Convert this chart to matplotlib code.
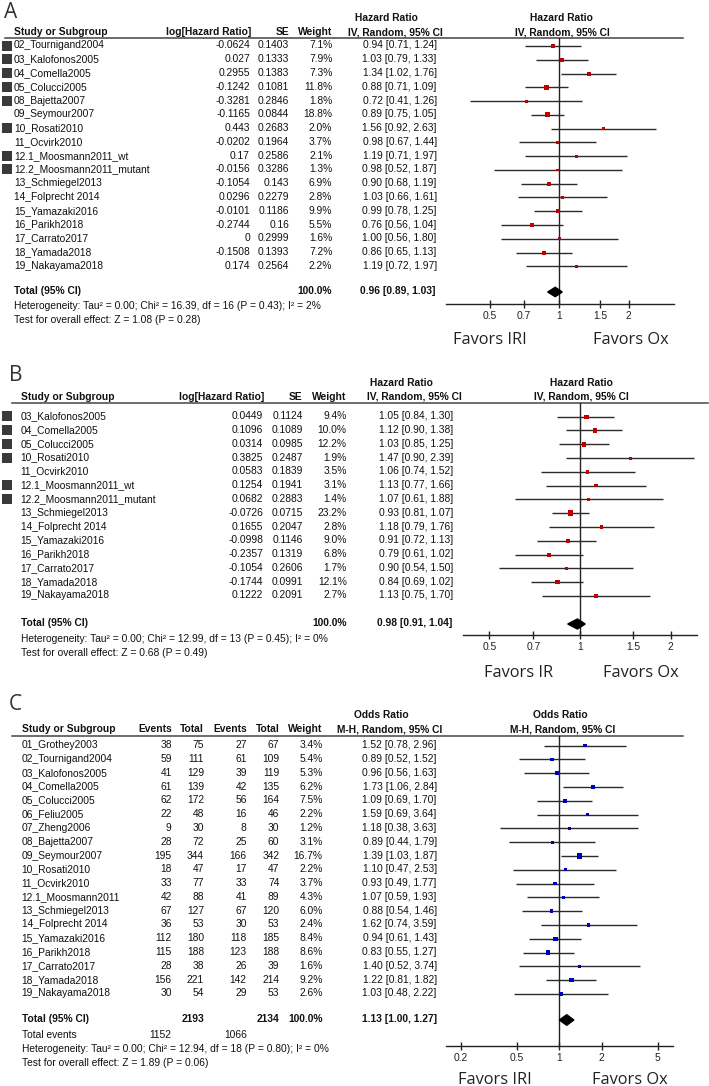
import numpy as np
import matplotlib.pyplot as plt
from matplotlib.patches import Polygon, Rectangle
from matplotlib.ticker import NullLocator

# ---- panel A : OS, hazard ratios ----
studies_a = ["02_Tournigand2004", "03_Kalofonos2005", "04_Comella2005", "05_Colucci2005",
             "08_Bajetta2007", "09_Seymour2007", "10_Rosati2010", "11_Ocvirk2010",
             "12.1_Moosmann2011_wt", "12.2_Moosmann2011_mutant", "13_Schmiegel2013",
             "14_Folprecht 2014", "15_Yamazaki2016", "16_Parikh2018", "17_Carrato2017",
             "18_Yamada2018", "19_Nakayama2018"]
loghr_a = [-0.0624, 0.027, 0.2955, -0.1242, -0.3281, -0.1165, 0.443, -0.0202, 0.17,
           -0.0156, -0.1054, 0.0296, -0.0101, -0.2744, 0, -0.1508, 0.174]
se_a = [0.1403, 0.1333, 0.1383, 0.1081, 0.2846, 0.0844, 0.2683, 0.1964, 0.2586,
        0.3286, 0.143, 0.2279, 0.1186, 0.16, 0.2999, 0.1393, 0.2564]
weight_a = [7.1, 7.9, 7.3, 11.8, 1.8, 18.8, 2.0, 3.7, 2.1, 1.3, 6.9, 2.8, 9.9, 5.5, 1.6, 7.2, 2.2]
hr_a = [0.94, 1.03, 1.34, 0.88, 0.72, 0.89, 1.56, 0.98, 1.19, 0.98, 0.90, 1.03, 0.99, 0.76, 1.00, 0.86, 1.19]
lo_a = [0.71, 0.79, 1.02, 0.71, 0.41, 0.75, 0.92, 0.67, 0.71, 0.52, 0.68, 0.66, 0.78, 0.56, 0.56, 0.65, 0.72]
hi_a = [1.24, 1.33, 1.76, 1.09, 1.26, 1.05, 2.63, 1.44, 1.97, 1.87, 1.19, 1.61, 1.25, 1.04, 1.80, 1.13, 1.97]
flag_a = [1, 1, 1, 1, 1, 0, 1, 0, 1, 1, 0, 0, 0, 0, 0, 0, 0]
total_a = (0.96, 0.89, 1.03)
het_a = "Heterogeneity: Tau² = 0.00; Chi² = 16.39, df = 16 (P = 0.43); I² = 2%"
test_a = "Test for overall effect: Z = 1.08 (P = 0.28)"

# ---- panel B : PFS, hazard ratios ----
studies_b = ["03_Kalofonos2005", "04_Comella2005", "05_Colucci2005", "10_Rosati2010",
             "11_Ocvirk2010", "12.1_Moosmann2011_wt", "12.2_Moosmann2011_mutant",
             "13_Schmiegel2013", "14_Folprecht 2014", "15_Yamazaki2016", "16_Parikh2018",
             "17_Carrato2017", "18_Yamada2018", "19_Nakayama2018"]
loghr_b = [0.0449, 0.1096, 0.0314, 0.3825, 0.0583, 0.1254, 0.0682, -0.0726, 0.1655,
           -0.0998, -0.2357, -0.1054, -0.1744, 0.1222]
se_b = [0.1124, 0.1089, 0.0985, 0.2487, 0.1839, 0.1941, 0.2883, 0.0715, 0.2047,
        0.1146, 0.1319, 0.2606, 0.0991, 0.2091]
weight_b = [9.4, 10.0, 12.2, 1.9, 3.5, 3.1, 1.4, 23.2, 2.8, 9.0, 6.8, 1.7, 12.1, 2.7]
hr_b = [1.05, 1.12, 1.03, 1.47, 1.06, 1.13, 1.07, 0.93, 1.18, 0.91, 0.79, 0.90, 0.84, 1.13]
lo_b = [0.84, 0.90, 0.85, 0.90, 0.74, 0.77, 0.61, 0.81, 0.79, 0.72, 0.61, 0.54, 0.69, 0.75]
hi_b = [1.30, 1.38, 1.25, 2.39, 1.52, 1.66, 1.88, 1.07, 1.76, 1.13, 1.02, 1.50, 1.02, 1.70]
flag_b = [1, 1, 1, 1, 0, 1, 1, 0, 0, 0, 0, 0, 0, 0]
total_b = (0.98, 0.91, 1.04)
het_b = "Heterogeneity: Tau² = 0.00; Chi² = 12.99, df = 13 (P = 0.45); I² = 0%"
test_b = "Test for overall effect: Z = 0.68 (P = 0.49)"

# ---- panel C : response, odds ratios ----
studies_c = ["01_Grothey2003", "02_Tournigand2004", "03_Kalofonos2005", "04_Comella2005",
             "05_Colucci2005", "06_Feliu2005", "07_Zheng2006", "08_Bajetta2007",
             "09_Seymour2007", "10_Rosati2010", "11_Ocvirk2010", "12.1_Moosmann2011",
             "13_Schmiegel2013", "14_Folprecht 2014", "15_Yamazaki2016", "16_Parikh2018",
             "17_Carrato2017", "18_Yamada2018", "19_Nakayama2018"]
events1_c = [38, 59, 41, 61, 62, 22, 9, 28, 195, 18, 33, 42, 67, 36, 112, 115, 28, 156, 30]
total1_c = [75, 111, 129, 139, 172, 48, 30, 72, 344, 47, 77, 88, 127, 53, 180, 188, 38, 221, 54]
events2_c = [27, 61, 39, 42, 56, 16, 8, 25, 166, 17, 33, 41, 67, 30, 118, 123, 26, 142, 29]
total2_c = [67, 109, 119, 135, 164, 46, 30, 60, 342, 47, 74, 89, 120, 53, 185, 188, 39, 214, 53]
weight_c = [3.4, 5.4, 5.3, 6.2, 7.5, 2.2, 1.2, 3.1, 16.7, 2.2, 3.7, 4.3, 6.0, 2.4, 8.4, 8.6, 1.6, 9.2, 2.6]
or_c = [1.52, 0.89, 0.96, 1.73, 1.09, 1.59, 1.18, 0.89, 1.39, 1.10, 0.93, 1.07, 0.88, 1.62, 0.94, 0.83, 1.40, 1.22, 1.03]
lo_c = [0.78, 0.52, 0.56, 1.06, 0.69, 0.69, 0.38, 0.44, 1.03, 0.47, 0.49, 0.59, 0.54, 0.74, 0.61, 0.55, 0.52, 0.81, 0.48]
hi_c = [2.96, 1.52, 1.63, 2.84, 1.70, 3.64, 3.63, 1.79, 1.87, 2.53, 1.77, 1.93, 1.46, 3.59, 1.43, 1.27, 3.74, 1.82, 2.22]
total_c = (1.13, 1.00, 1.27)
het_c = "Heterogeneity: Tau² = 0.00; Chi² = 12.94, df = 18 (P = 0.80); I² = 0%"
test_c = "Test for overall effect: Z = 1.89 (P = 0.06)"

hr_ticks = [0.5, 0.7, 1, 1.5, 2]
or_ticks = [0.2, 0.5, 1, 2, 5]

W, H = 709, 1086
FONT = ['Liberation Sans', 'DejaVu Sans']
FS = 7.4
RED = '#c00000'
BLUE = '#0000b8'

fig = plt.figure(figsize=(W / 100, H / 100), dpi=100)
page = fig.add_axes([0, 0, 1, 1])
page.set_xlim(0, W)
page.set_ylim(H, 0)
page.axis('off')


def txt(x, y, s, ha='left', bold=False):
    page.text(x, y - 0.5, s, ha=ha, va='center', fontsize=FS, family=FONT,
              fontweight='bold' if bold else 'normal', color='#111111')


def ci_text(e, l, h):
    return f"{e:.2f} [{l:.2f}, {h:.2f}]"


def forest(x0, x1, ytop, ybot, xlim, ticks, rows, est, lo, hi, weights, colour, total, ty, half):
    ax = fig.add_axes([x0 / W, 1 - ybot / H, (x1 - x0) / W, (ybot - ytop) / H])
    ax.set_xscale('log')
    ax.set_xlim(*xlim)
    ax.set_ylim(ybot, ytop)
    ax.patch.set_alpha(0)
    for s in ['left', 'right', 'top']:
        ax.spines[s].set_visible(False)
    ax.spines['bottom'].set_linewidth(1.0)
    ax.spines['bottom'].set_color('#222222')
    ax.set_yticks([])
    ax.set_xticks(ticks)
    ax.set_xticklabels([f"{t:g}" for t in ticks])
    ax.xaxis.set_minor_locator(NullLocator())
    ax.tick_params(axis='x', direction='inout', length=6, width=1, colors='#222222',
                   labelsize=FS, pad=2)
    for lbl in ax.get_xticklabels():
        lbl.set_family(FONT)
    ax.axvline(1, color='#222222', lw=1.0)
    ax.hlines(rows, lo, hi, color='#2a2a2a', lw=1.0)
    # square side grows with study weight (pixels -> points)
    side = (2.0 + 0.75 * np.sqrt(weights)) * 0.72
    ax.scatter(est, rows, marker='s', s=side ** 2, color=colour, linewidths=0, zorder=3)
    e, l, h = total
    ax.add_patch(Polygon([(l, ty), (e, ty - half), (h, ty), (e, ty + half)],
                         closed=True, color='black', zorder=4))
    return ax


def flags(rows, fl):
    for y, f in zip(rows, fl):
        if f:
            page.add_patch(Rectangle((1.5, y - 5.5), 10, 10, color='#3a3a3a', lw=0))


def favors(y, xl, sl, xr, sr):
    for x, s in [(xl, sl), (xr, sr)]:
        page.text(x, y, s, ha='left', va='baseline', fontsize=11.8,
                  family=['Open Sans', 'DejaVu Sans'], color='#222222')


def letter(x, y, s):
    page.text(x, y, s, ha='left', va='baseline', fontsize=15,
              family=['Open Sans', 'DejaVu Sans'], color='#333333')


# ================= A =================
letter(4, 18.5, "A")
rows_a = 46 + 13.77 * np.arange(len(studies_a))
txt(386, 18.3, "Hazard Ratio", ha='center', bold=True)
txt(561, 18.3, "Hazard Ratio", ha='center', bold=True)
txt(14, 32.7, "Study or Subgroup", bold=True)
txt(251, 32.7, "log[Hazard Ratio]", ha='right', bold=True)
txt(289.3, 32.7, "SE", ha='right', bold=True)
txt(332.3, 32.7, "Weight", ha='right', bold=True)
txt(395, 32.7, "IV, Random, 95% CI", ha='center', bold=True)
txt(562.5, 32.7, "IV, Random, 95% CI", ha='center', bold=True)
page.plot([5, 683], [37.5, 37.5], color='#444444', lw=1.1)
flags(rows_a, flag_a)
for i, y in enumerate(rows_a):
    txt(14, y, studies_a[i])
    txt(250, y, f"{loghr_a[i]:g}", ha='right')
    txt(289.3, y, f"{se_a[i]:g}", ha='right')
    txt(332.3, y, f"{weight_a[i]:.1f}%", ha='right')
    txt(436.7, y, ci_text(hr_a[i], lo_a[i], hi_a[i]), ha='right')
txt(14, 292, "Total (95% CI)", bold=True)
txt(332.3, 292, "100.0%", ha='right', bold=True)
txt(436, 292, ci_text(*total_a), ha='right', bold=True)
txt(14, 306.7, het_a)
txt(14, 320.3, test_a)
forest(446, 674, 37.5, 304.3, (0.322, 3.149), hr_ticks, rows_a, hr_a, lo_a, hi_a,
       weight_a, RED, total_a, 292, 4.7)
favors(344, 453.3, "Favors IRI", 593.3, "Favors Ox")

# ================= B =================
letter(9, 380.7, "B")
rows_b = 416.7 + 13.79 * np.arange(len(studies_b))
txt(401.7, 383.3, "Hazard Ratio", ha='center', bold=True)
txt(581, 383.3, "Hazard Ratio", ha='center', bold=True)
txt(20.7, 397.3, "Study or Subgroup", bold=True)
txt(264, 397.3, "log[Hazard Ratio]", ha='right', bold=True)
txt(302.7, 397.3, "SE", ha='right', bold=True)
txt(346.7, 397.3, "Weight", ha='right', bold=True)
txt(414, 397.3, "IV, Random, 95% CI", ha='center', bold=True)
txt(581.7, 397.3, "IV, Random, 95% CI", ha='center', bold=True)
page.plot([11.7, 708], [402.7, 402.7], color='#444444', lw=1.1)
flags(rows_b, flag_b)
for i, y in enumerate(rows_b):
    txt(20.7, y, studies_b[i])
    txt(263.3, y, f"{loghr_b[i]:g}", ha='right')
    txt(302.7, y, f"{se_b[i]:g}", ha='right')
    txt(346.7, y, f"{weight_b[i]:.1f}%", ha='right')
    txt(453.3, y, ci_text(hr_b[i], lo_b[i], hi_b[i]), ha='right')
txt(20.7, 624, "Total (95% CI)", bold=True)
txt(346.7, 624, "100.0%", ha='right', bold=True)
txt(452.5, 624, ci_text(*total_b), ha='right', bold=True)
txt(20.7, 639.5, het_b)
txt(20.7, 654, test_b)
forest(463.3, 697.3, 402.7, 635, (0.410, 2.448), hr_ticks, rows_b, hr_b, lo_b, hi_b,
       weight_b, RED, total_b, 624, 5.0)
favors(676.7, 484.3, "Favors IR", 603.3, "Favors Ox")

# ================= C =================
letter(9, 710, "C")
rows_c = 745.7 + 13.79 * np.arange(len(studies_c))
txt(381, 715.7, "Odds Ratio", ha='center', bold=True)
txt(560.7, 715.7, "Odds Ratio", ha='center', bold=True)
txt(21.7, 730, "Study or Subgroup", bold=True)
for x, s in [(172.3, "Events"), (204, "Total"), (247.3, "Events"), (279.3, "Total"),
             (322.7, "Weight")]:
    txt(x, 730, s, ha='right', bold=True)
txt(390, 730, "M-H, Random, 95% CI", ha='center', bold=True)
txt(562.3, 730, "M-H, Random, 95% CI", ha='center', bold=True)
page.plot([11.7, 683.3], [736, 736], color='#444444', lw=1.1)
for i, y in enumerate(rows_c):
    txt(21.7, y, studies_c[i])
    txt(171.7, y, str(events1_c[i]), ha='right')
    txt(204, y, str(total1_c[i]), ha='right')
    txt(246.7, y, str(events2_c[i]), ha='right')
    txt(279.3, y, str(total2_c[i]), ha='right')
    txt(322.7, y, f"{weight_c[i]:.1f}%", ha='right')
    txt(436.7, y, ci_text(or_c[i], lo_c[i], hi_c[i]), ha='right')
txt(21.7, 1020, "Total (95% CI)", bold=True)
txt(204, 1020, str(sum(total1_c)), ha='right', bold=True)
txt(279.3, 1020, str(sum(total2_c)), ha='right', bold=True)
txt(322.7, 1020, "100.0%", ha='right', bold=True)
txt(436.7, 1020, ci_text(*total_c), ha='right', bold=True)
txt(21.7, 1035, "Total events")
txt(171.7, 1035, str(sum(events1_c)), ha='right')
txt(246.7, 1035, str(sum(events2_c)), ha='right')
txt(21.7, 1049.3, het_c)
txt(21.7, 1063.3, test_c)
forest(446, 672.7, 736, 1045.7, (0.1566, 6.40), or_ticks, rows_c, or_c, lo_c, hi_c,
       weight_c, BLUE, total_c, 1020, 5.3)
favors(1084, 458.3, "Favors IRI", 591.7, "Favors Ox")

fig.savefig("out.png", dpi=100)
